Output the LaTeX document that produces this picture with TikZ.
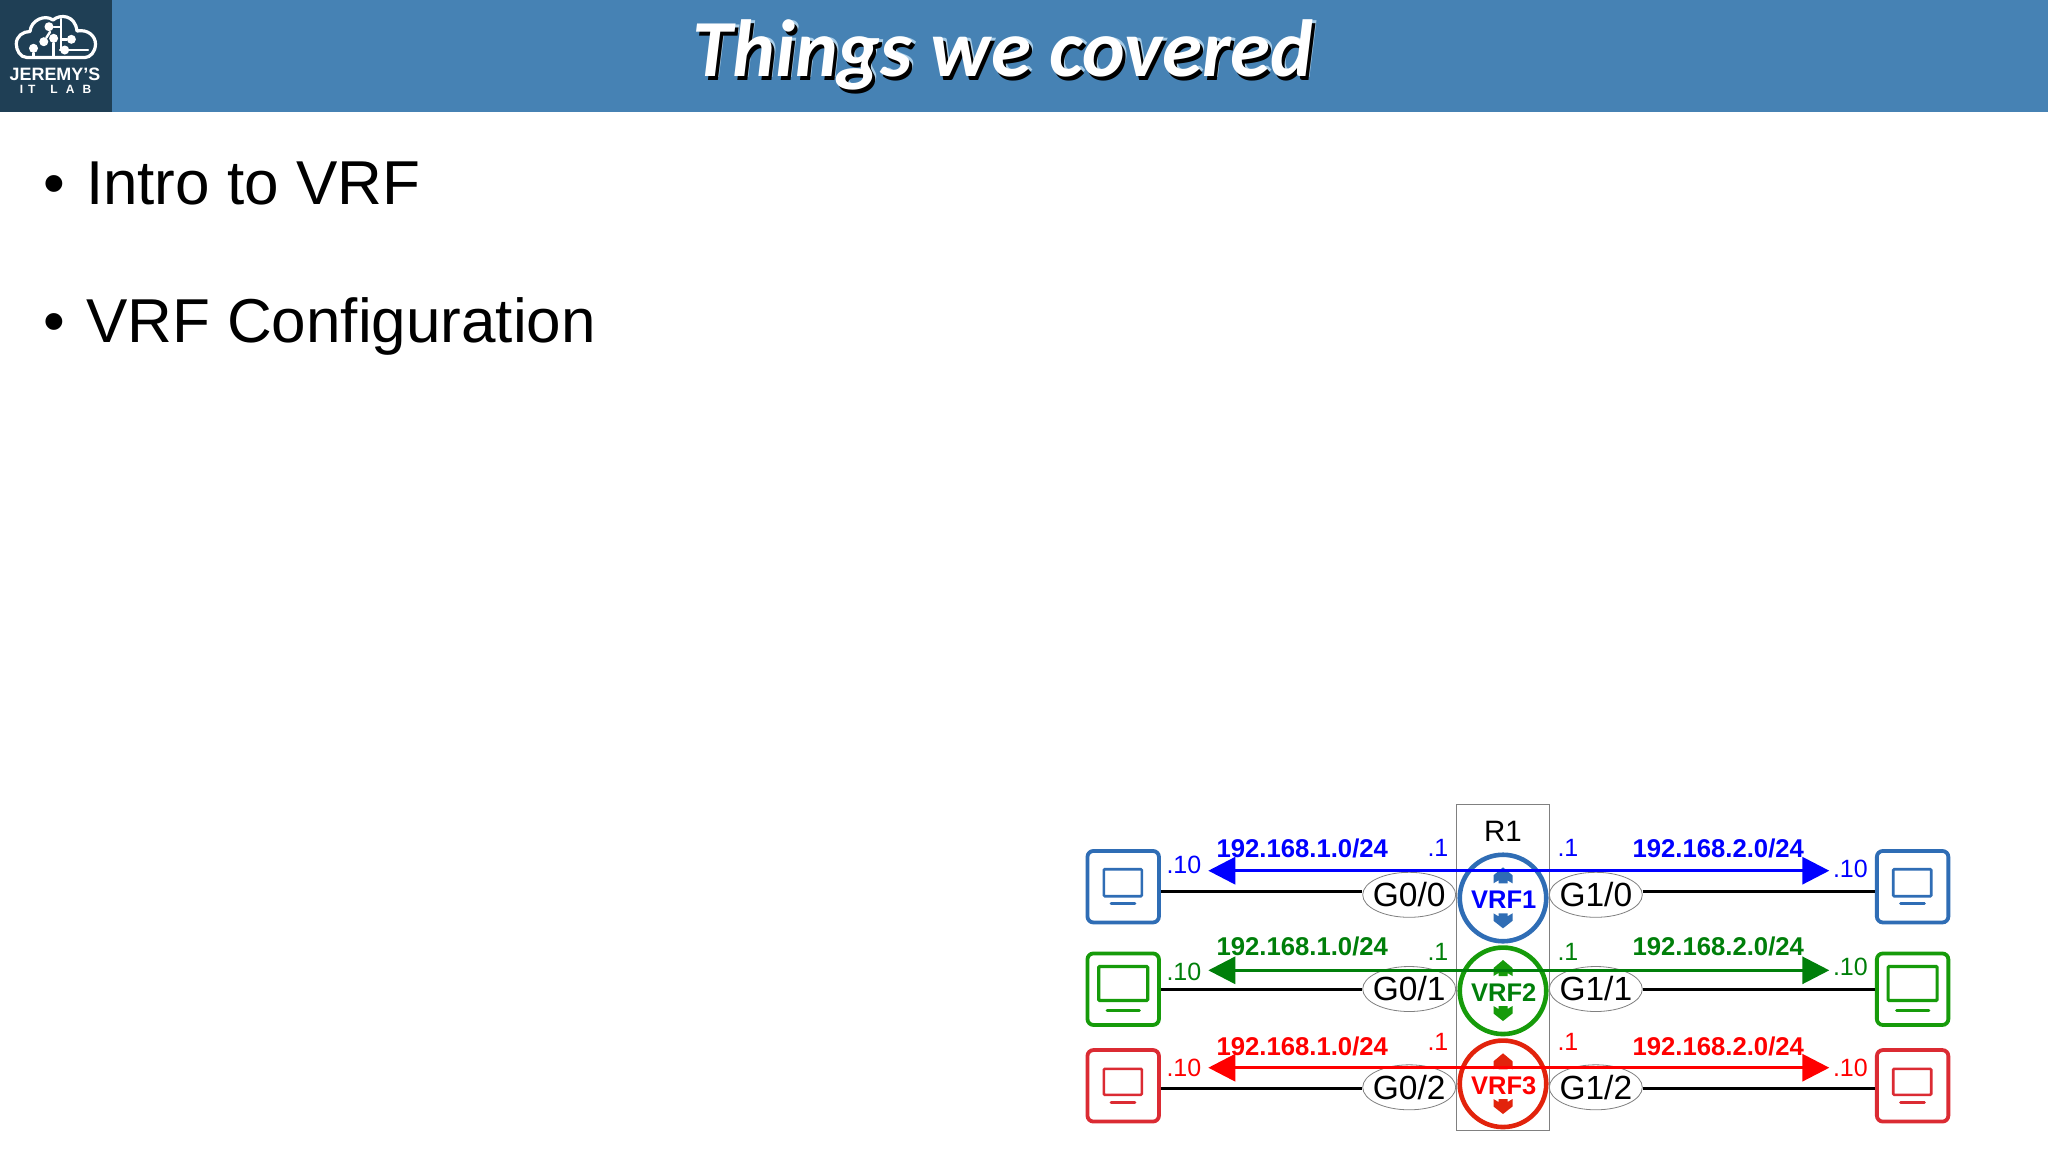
\documentclass[tikz,border=0pt]{standalone}
\usepackage{fontspec}
\setmainfont{Liberation Sans}
\newfontfamily\titlefont{Carlito}
\usetikzlibrary{arrows.meta,shapes.geometric,calc}
\definecolor{hdr}{HTML}{4682B4}
\definecolor{logobg}{HTML}{1F3F55}
\definecolor{ringB}{HTML}{2F6DB5}
\definecolor{ringG}{HTML}{169B0A}
\definecolor{ringR}{HTML}{E2230C}
\definecolor{pcB}{HTML}{2F6DB5}
\definecolor{pcG}{HTML}{169B0A}
\definecolor{pcR}{HTML}{DB2B33}
\definecolor{txtB}{HTML}{0000FF}
\definecolor{txtG}{HTML}{007F0A}
\definecolor{txtR}{HTML}{FF0000}
\definecolor{halo}{HTML}{A8CDE8}
\newcommand{\fsz}[1]{\fontsize{#1}{#1}\selectfont}
\newcommand{\shadowed}[1]{\rlap{\hspace{4pt}\raisebox{-1.5pt}{\color{halo}#1}}\rlap{\hspace{3pt}\raisebox{-4pt}{\color{black}#1}}\color{white}#1}
\tikzset{
  x=1pt,y=-1pt,
  lbl/.style={inner sep=0pt,outer sep=0pt,anchor=base west},
  bullettext/.style={lbl,font=\fsz{62}},
  net/.style={lbl,font=\fsz{25.7}\bfseries},
  host/.style={lbl,font=\fsz{25}},
  gw/.style={lbl,font=\fsz{25}},
  pcbox/.style={draw=#1,line width=3.8pt,rounded corners=6pt,minimum width=71.5pt,minimum height=71.5pt,inner sep=0pt,fill=white},
  screenbox/.style={draw=#1,rounded corners=1pt,inner sep=0pt,fill=white},
  link/.style={draw=black,line width=3pt},
  ifc/.style={ellipse,draw=black!50,line width=0.8pt,fill=white,minimum width=93pt,minimum height=45pt,inner sep=0pt},
  ifctext/.style={font=\fsz{33.5},inner sep=0pt},
  vrf/.style={circle,draw=#1,line width=4.6pt,minimum size=86.5pt,inner sep=0pt},
  vrftext/.style={font=\fsz{25.5}\bfseries,inner sep=0pt,text=#1,yshift=-1.5pt,xshift=0.8pt},
  flow/.style={draw=#1,line width=3.2pt,{Triangle[length=27pt,width=27pt,fill=#1]}-{Triangle[length=27pt,width=27pt,fill=#1]}},
  logoline/.style={draw=white,line width=3.2pt,line cap=round,line join=round},
  logothin/.style={draw=white,line width=2.4pt,line cap=round,line join=round},
  logodot/.style={circle,fill=white,minimum size=9pt,inner sep=0pt},
}
\newcommand{\upmark}[3]{\fill[#1] (#2,#3) -- ++(9.5,8) -- ++(0,8) -- ++(-5,-3) -- ++(0,3) -- ++(-9,0) -- ++(0,-3) -- ++(-5,3) -- ++(0,-8) -- cycle;}
\newcommand{\downmark}[3]{\fill[#1] (#2,#3) -- ++(9.5,-7.5) -- ++(0,-7.5) -- ++(-5,3) -- ++(0,-3) -- ++(-9,0) -- ++(0,3) -- ++(-5,-3) -- ++(0,7.5) -- cycle;}
\begin{document}
\begin{tikzpicture}
\useasboundingbox (0,0) rectangle (2048,1152);
\fill[white] (0,0) rectangle (2048,1152);
% header
\fill[hdr] (0,0) rectangle (2048,111.5);
\fill[logobg] (0,0) rectangle (112,111.5);
\node[lbl,anchor=base,font=\titlefont\fsz{81}\bfseries\itshape] (title) at (1003,76) {\shadowed{Things we covered}};
% logo
\draw[logoline] (27,57.5) .. controls (20,57.5) and (16.3,50) .. (16.3,44) .. controls (16.3,36) and (23,31.5) .. (30,31.5)
  .. controls (31,20) and (45,14) .. (53,20) .. controls (60,14) and (75,14.5) .. (77,31)
  .. controls (88,29) and (95.5,36) .. (95.5,44) .. controls (95.5,52) and (90,57.5) .. (85,57.5) -- cycle;
\node[logodot] (d1) at (33.5,48.3) {};
\node[logodot] (d2) at (43.8,41.7) {};
\node[logodot] (d3) at (53.6,38.3) {};
\node[logodot] (d4) at (49,26.7) {};
\node[logodot] (d5) at (71.4,39.3) {};
\node[logodot] (d6) at (64.7,50) {};
\coordinate (c1) at (33.5,57.5);
\coordinate (c3) at (53.6,57.5);
\coordinate (c2) at (50,32);
\coordinate (c4) at (61,26.7);
\coordinate (c4t) at (61,19);
\coordinate (c5) at (61,39.3);
\coordinate (c6) at (88,50);
\draw[logothin] (d1) -- (c1);
\draw[logothin] (d3) -- (c3);
\draw[logothin] (d2) -- (c2);
\draw[logothin] (d4) -- (c4) -- (c4t);
\draw[logothin] (c4) -- (c5) -- (d5);
\draw[logothin] (c5) -- (61,50) -- (d6) -- (c6);
\node[lbl,anchor=base,white,font=\fsz{17.9}\bfseries] (brand) at (55,80) {JEREMY'S};
\node[lbl,anchor=base,white,font=\fsz{12}\bfseries] (lab) at (55.5,93.3) {I\hspace{5pt}T\hspace{15pt}L\hspace{8pt}A\hspace{8pt}B};
% bullets
\node[bullettext] (b1) at (43,204) {•};
\node[bullettext] (t1) at (86,204) {Intro to VRF};
\node[bullettext] (b2) at (43,342) {•};
\node[bullettext] (t2) at (86,342) {VRF Configuration};
% PCs
\foreach \n/\c/\yc in {1/pcB/886.7, 2/pcG/989.2, 3/pcR/1085.8}{
  \node[pcbox=\c] (pcL\n) at (1123.2,\yc) {};
  \node[pcbox=\c] (pcR\n) at (1912.6,\yc) {};
}
\node[screenbox=pcB,line width=2.6pt,minimum width=38pt,minimum height=27pt] (sL1) at (1122.8,882.7) {};
\node[screenbox=pcB,line width=2.6pt,minimum width=38pt,minimum height=27pt] (sR1) at (1912.2,882.7) {};
\node[screenbox=pcG,line width=3.2pt,minimum width=49pt,minimum height=34pt] (sL2) at (1123.2,983.5) {};
\node[screenbox=pcG,line width=3.2pt,minimum width=49pt,minimum height=34pt] (sR2) at (1912.6,983.5) {};
\node[screenbox=pcR,line width=2.6pt,minimum width=38pt,minimum height=26pt] (sL3) at (1122.8,1081.8) {};
\node[screenbox=pcR,line width=2.6pt,minimum width=38pt,minimum height=26pt] (sR3) at (1912.2,1081.8) {};
\foreach \s/\xa/\xb in {L/1111/1135, R/1900.5/1924.5}{
  \draw[pcB,line width=2.8pt,line cap=round] (\xa,903.7) -- (\xb,903.7);
  \draw[pcR,line width=2.8pt,line cap=round] (\xa,1102.7) -- (\xb,1102.7);
}
\draw[pcG,line width=3pt,line cap=round] (1107,1010.3) -- (1139.3,1010.3);
\draw[pcG,line width=3pt,line cap=round] (1896.5,1010.3) -- (1928.8,1010.3);
% interfaces
\node[ifc,label={[ifctext]center:G0/0}] (g00) at (1409.2,894.8) {};
\node[ifc,label={[ifctext]center:G0/1}] (g01) at (1409.2,989) {};
\node[ifc,label={[ifctext]center:G0/2}] (g02) at (1409.2,1087.3) {};
\node[ifc,label={[ifctext]center:G1/0}] (g10) at (1595.8,894.8) {};
\node[ifc,label={[ifctext]center:G1/1}] (g11) at (1595.8,989) {};
\node[ifc,label={[ifctext]center:G1/2}] (g12) at (1595.8,1087.3) {};
% links
\draw[link] (pcL1.east |- 0,891) -- (g00.west |- 0,891);
\draw[link] (pcL2.east |- 0,989.7) -- (g01.west |- 0,989.7);
\draw[link] (pcL3.east |- 0,1088) -- (g02.west |- 0,1088);
\draw[link] (g10.east |- 0,891) -- (pcR1.west |- 0,891);
\draw[link] (g11.east |- 0,989.7) -- (pcR2.west |- 0,989.7);
\draw[link] (g12.east |- 0,1088) -- (pcR3.west |- 0,1088);
% router
\node[draw=black!50,line width=1pt,minimum width=92.6pt,minimum height=325.6pt,inner sep=0pt] (r1box) at (1503,967.5) {};
\node[lbl,font=\fsz{29.5}] (r1) at (1484,841.7) {R1};
\node[vrf=ringB,label={[vrftext=txtB]center:VRF1}] (vrf1) at (1503,898) {};
\node[vrf=ringG,label={[vrftext=txtG]center:VRF2}] (vrf2) at (1503,990.8) {};
\node[vrf=ringR,label={[vrftext=txtR]center:VRF3}] (vrf3) at (1503,1083.8) {};
\upmark{ringB}{1503}{867.3}
\downmark{ringB}{1503}{928.3}
\upmark{ringG}{1503}{960}
\downmark{ringG}{1503}{1021}
\upmark{ringR}{1503}{1053.3}
\downmark{ringR}{1503}{1114}
% flows
\coordinate (fL1) at (1208.3,870.7); \coordinate (fR1) at (1829.3,870.7);
\coordinate (fL2) at (1208.3,970.3); \coordinate (fR2) at (1829.3,970.3);
\coordinate (fL3) at (1208.3,1067.7); \coordinate (fR3) at (1829.3,1067.7);
\draw[flow=txtB] (fL1) -- (fR1);
\draw[flow=txtG] (fL2) -- (fR2);
\draw[flow=txtR] (fL3) -- (fR3);
% subnets
\node[net,txtB] (n11) at (1216.5,857.7) {192.168.1.0/24};
\node[net,txtG] (n12) at (1216.5,955.7) {192.168.1.0/24};
\node[net,txtR] (n13) at (1216.5,1055) {192.168.1.0/24};
\node[net,txtB] (n21) at (1632.5,857.7) {192.168.2.0/24};
\node[net,txtG] (n22) at (1632.5,955.7) {192.168.2.0/24};
\node[net,txtR] (n23) at (1632.5,1055) {192.168.2.0/24};
% addresses
\node[host,txtB] (hL1) at (1166.5,873.3) {.10};
\node[host,txtG] (hL2) at (1166.5,980) {.10};
\node[host,txtR] (hL3) at (1166.5,1076.7) {.10};
\node[host,txtB] (hR1) at (1833,877.3) {.10};
\node[host,txtG] (hR2) at (1833,975) {.10};
\node[host,txtR] (hR3) at (1833,1076.7) {.10};
\node[gw,txtB] (gL1) at (1427.5,856.7) {.1};
\node[gw,txtG] (gL2) at (1427.5,960.7) {.1};
\node[gw,txtR] (gL3) at (1427.5,1050) {.1};
\node[gw,txtB] (gR1) at (1557.5,856.7) {.1};
\node[gw,txtG] (gR2) at (1557.5,960.7) {.1};
\node[gw,txtR] (gR3) at (1557.5,1050) {.1};
\end{tikzpicture}
\end{document}
